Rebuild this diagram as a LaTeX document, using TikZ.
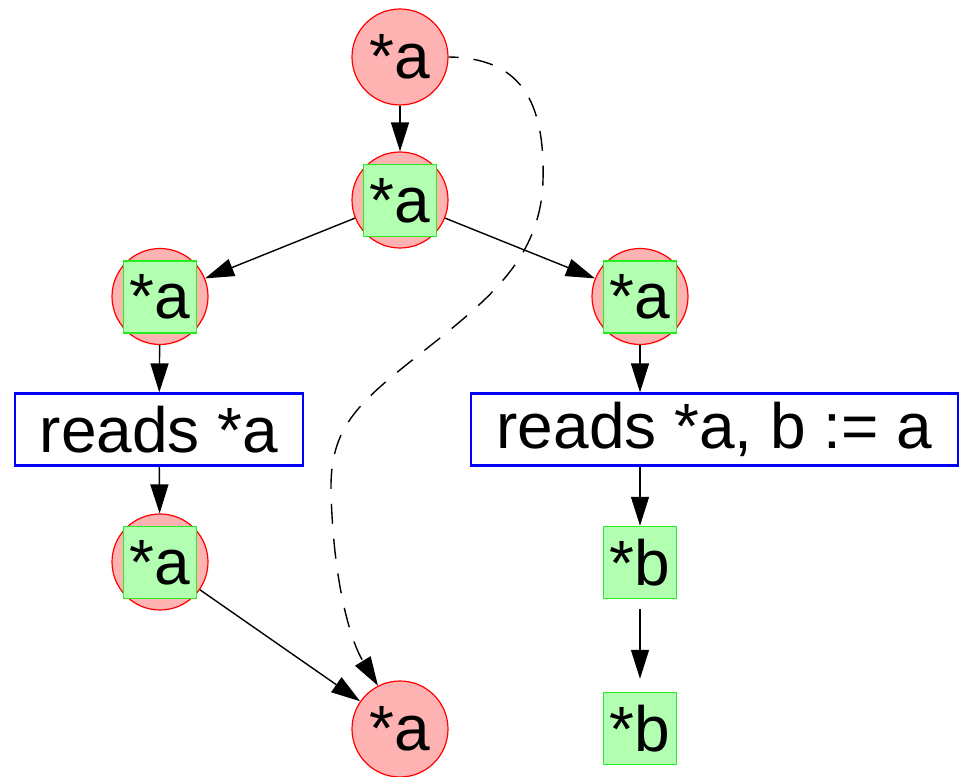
\documentclass[tikz,border=0pt]{standalone}
\usepackage{fontspec}
\setmainfont{Liberation Sans}
\usetikzlibrary{arrows.meta}
\definecolor{cfill}{HTML}{FFB2B2}
\definecolor{sfill}{HTML}{B2FFB2}
\definecolor{sline}{HTML}{22EE22}
\begin{document}
\begin{tikzpicture}[x=1pt,y=-1pt,
  every node/.style={font=\fontsize{64}{72}\selectfont, inner sep=0pt},
  circ/.style={circle, draw=red, fill=cfill, line width=1.2pt, minimum size=96pt},
  sq/.style={rectangle, draw=sline, fill=sfill, line width=1.5pt, minimum width=73pt, minimum height=72pt},
  rbox/.style={rectangle, draw=blue, line width=2.2pt, minimum height=72pt},
  arr/.style={line width=1.4pt, -{Triangle[length=29pt,width=18pt]}}
]
\useasboundingbox (0,0) rectangle (960,776);
\node[circ] (top) at (400,57) {*a};
\node[circ] (c2) at (400,200) {};
\node[sq] (s2) at (400,200.5) {*a};
\node[circ] (cl) at (160,296.5) {};
\node[sq] (sl) at (160,297) {*a};
\node[circ] (cr) at (640,296.5) {};
\node[sq] (sr) at (640,297) {*a};
\node[rbox, minimum width=288pt] (rl) at (159,429.5) {reads *a};
\node[rbox, minimum width=487pt] (rr) at (714.5,429.5) {reads *a, b := a};
\node[circ] (cl2) at (160,562) {};
\node[sq] (sl2) at (160,562.5) {*a};
\node[sq] (b1) at (640,562.5) {*b};
\node[sq] (b2) at (640,728.5) {*b};
\node[circ] (bot) at (400,729) {*a};

\draw[arr] (top) -- (c2);
\draw[arr] (c2) -- (cl);
\draw[arr] (c2) -- (cr);
\draw[arr] (cl) -- (rl);
\draw[arr] (rl) -- (cl2);
\draw[arr] (cr) -- (rr.north -| cr);
\draw[arr] (rr.south -| b1) -- (b1);
\draw[arr, shorten <=10pt, shorten >=13pt] (b1) -- (b2);
\draw[arr] (cl2) -- (bot);
\draw[arr, dash pattern=on 20pt off 15pt, dash phase=10pt]
  (top.east) .. controls (520,58) and (545,100) .. (543,180)
  .. controls (541,250) and (500,290) .. (440,338)
  .. controls (365,398) and (330,420) .. (331,490)
  .. controls (333,580) and (350,640) .. (bot.117);
\end{tikzpicture}
\end{document}
